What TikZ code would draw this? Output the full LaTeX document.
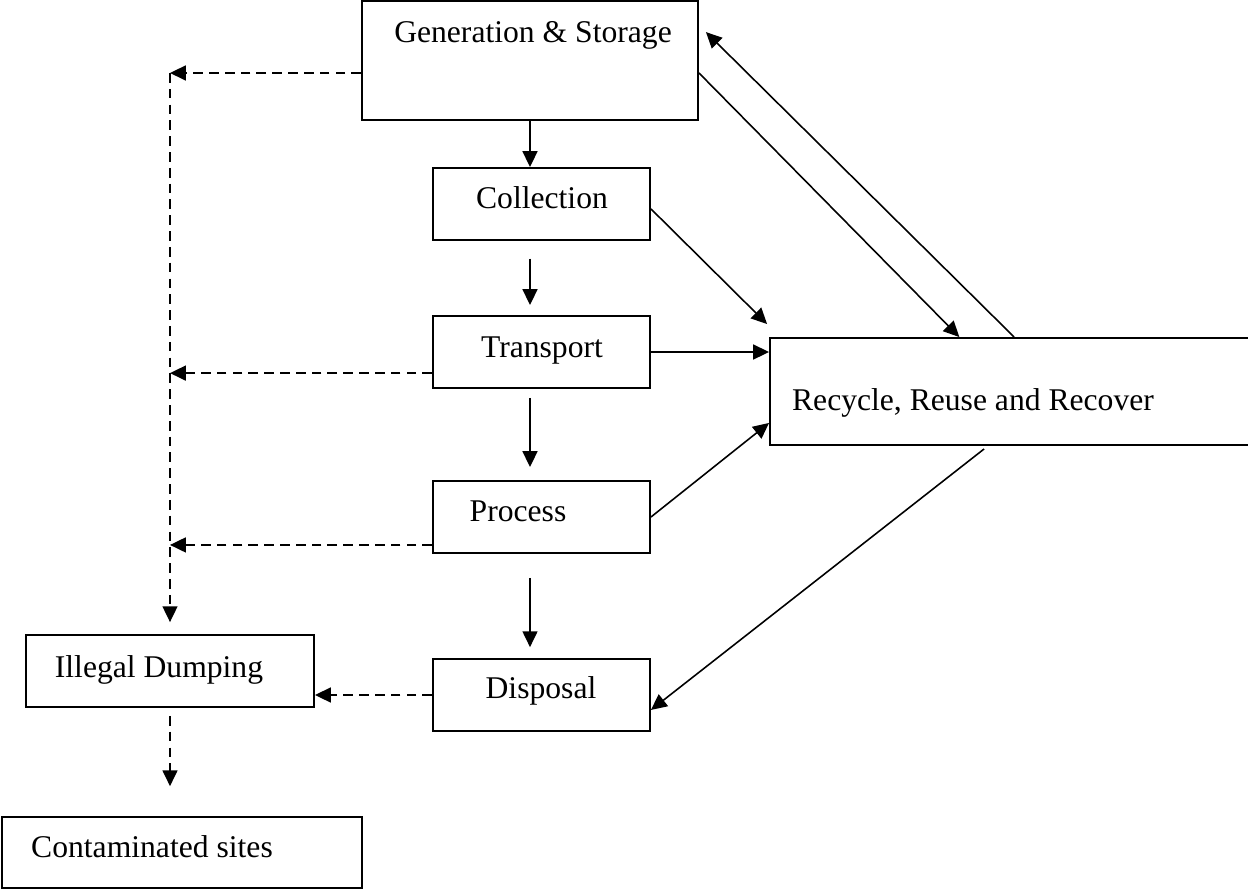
\documentclass[tikz,border=0pt]{standalone}
\usepackage{fontspec}
\setmainfont{Liberation Serif}
\usetikzlibrary{fit, arrows.meta}

\begin{document}
\begin{tikzpicture}[x=0.02cm, y=-0.02cm,
    box/.style={draw=black, line width=1.1pt, inner sep=0pt},
    txt/.style={anchor=base, inner sep=0pt, font=\fontsize{18}{21}\selectfont},
    arr/.style={-{Triangle[length=9pt, width=8.5pt]}, line width=0.9pt},
    dsh/.style={arr, dash pattern=on 5.5pt off 3.5pt}]

    \useasboundingbox (0,0) rectangle (1248,890);

    % boxes
    \node[box, fit={(362,1) (698,120)}] (gen) {};
    \node[box, fit={(433,168) (650,240)}] (coll) {};
    \node[box, fit={(433,316) (650,388)}] (trans) {};
    \node[box, fit={(433,481) (650,553)}] (proc) {};
    \node[box, fit={(433,659) (650,731)}] (disp) {};
    \node[box, fit={(770,338) (1252,445)}] (rec) {};
    \node[box, fit={(26,635) (314,707)}] (illeg) {};
    \node[box, fit={(2,817) (362,888)}] (cont) {};

    % texts
    \node[txt] (gen-t) at (533,42) {Generation \& Storage};
    \node[txt] (coll-t) at (542,208) {Collection};
    \node[txt] (trans-t) at (542,357) {Transport};
    \node[txt] (proc-t) at (518,521) {Process};
    \node[txt] (disp-t) at (541,698) {Disposal};
    \node[txt] (rec-t) at (973,410) {Recycle, Reuse and Recover};
    \node[txt] (illeg-t) at (159,677) {Illegal Dumping};
    \node[txt] (cont-t) at (152,857) {Contaminated sites};

    % main chain
    \draw[arr] (gen.south) -- (gen.south |- coll.north);
    \draw[arr, shorten <=10pt, shorten >=5.7pt] (gen.south |- coll.south) -- (gen.south |- trans.north);
    \draw[arr, shorten <=5pt, shorten >=7.4pt] (gen.south |- trans.south) -- (gen.south |- proc.north);
    \draw[arr, shorten <=13.6pt, shorten >=6.2pt] (gen.south |- proc.south) -- (gen.south |- disp.north);

    % recycle loop
    \draw[arr] ([yshift=-2.8pt]coll.east) -- ([xshift=-1.1pt, yshift=7.4pt]rec.north west);
    \draw[arr] ([yshift=-7.1pt]gen.east) -- ([xshift=108.3pt]rec.north west);
    \draw[arr, shorten >=5.6pt] ([xshift=139.5pt]rec.north west) -- ([yshift=20.1pt]gen.east);
    \draw[arr] (trans.east) -- (rec.west |- trans.east);
    \draw[arr] (proc.east) -- ([yshift=-17.9pt]rec.west);
    \draw[arr] ([xshift=122.4pt, yshift=-1.7pt]rec.south west) -- ([yshift=-8.5pt]disp.east);

    % leaks to illegal dumping
    \coordinate (gen-out) at ([yshift=-7.1pt]gen.west);
    \coordinate (trans-out) at ([yshift=-12pt]trans.west);
    \coordinate (proc-out) at ([yshift=-15.9pt]proc.west);
    \draw[dsh] (gen-out) -- (gen-out -| illeg.north);
    \draw[dsh] (trans-out) -- (trans-out -| illeg.north);
    \draw[dsh] (proc-out) -- (proc-out -| illeg.north);
    \draw[dsh, shorten >=6.8pt] (gen-out -| illeg.north) -- (illeg.north);
    \draw[dsh] (disp.west) -- (disp.west -| illeg.east);
    \draw[dsh, shorten <=4.5pt, shorten >=17pt] (illeg.south) -- (illeg.south |- cont.north);

\end{tikzpicture}
\end{document}
